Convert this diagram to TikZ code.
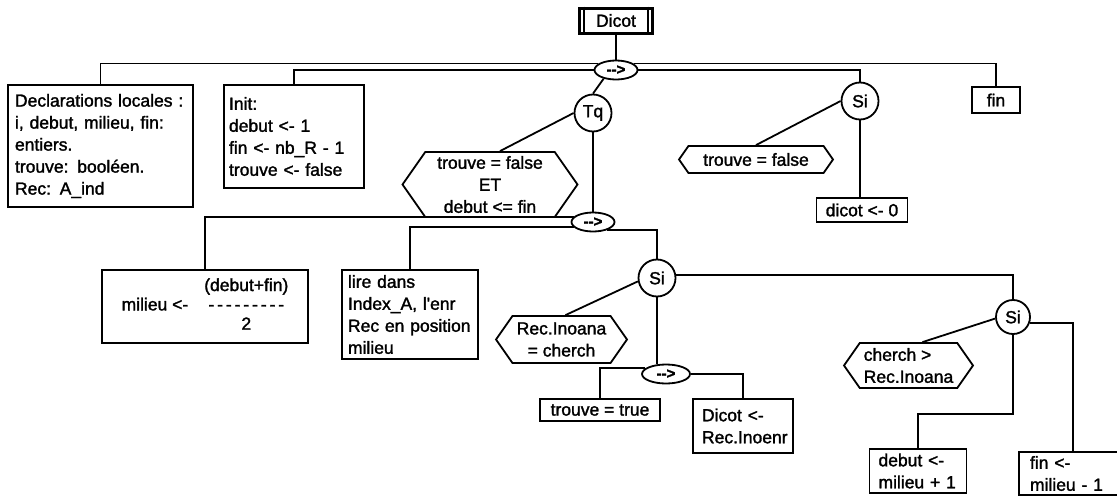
\documentclass[tikz,border=0pt]{standalone}
\usepackage{fontspec}
\newfontfamily\flowfont{Liberation Sans}[Ligatures=TeXOff, FakeBold=1.6]
\usetikzlibrary{shapes.geometric, shapes.symbols}
\newcommand{\fracdashes}{-\kern2.9pt-\kern2.9pt-\kern2.9pt-\kern2.9pt-\kern2.9pt-\kern2.9pt-\kern2.9pt-\kern2.9pt-}

\begin{document}
\begin{tikzpicture}[x=1pt, y=-1pt, line width=1.8pt,
	every node/.style={font=\flowfont\fontsize{17.5}{22}\selectfont},
	box/.style={draw, rectangle, inner ysep=2pt, align=left},
	test/.style={draw, circle, minimum size=37pt, inner sep=0pt},
	seq/.style={draw, ellipse, minimum width=43pt, minimum height=19pt, inner sep=0pt,
		font=\flowfont\bfseries\fontsize{15}{15}\selectfont},
	cond/.style={draw, signal, signal to=east and west, signal pointer angle=110,
		align=center, inner sep=1pt}]
	\useasboundingbox (0,0) rectangle (1117,498);

	% Nodes:
	\node[draw, line width=3pt, minimum width=73pt, minimum height=25pt, inner sep=0pt] (dicot) at (616,20.5) {Dicot};
	\draw ([xshift=6pt]dicot.north west) -- ([xshift=6pt]dicot.south west);
	\draw ([xshift=-6pt]dicot.north east) -- ([xshift=-6pt]dicot.south east);
	\node[seq] (e1) at (616,70) {-->};

	\node[box, inner xsep=7pt, text width=171pt, minimum height=122pt] (decl) at (100.5,146)
		{Declarations locales :\\i, debut, milieu, fin:\\entiers.\\trouve: booléen.\\Rec: A\_ind};
	\node[box, inner xsep=5pt, text width=130pt, minimum height=103pt] (init) at (294,136.5)
		{Init:\\debut <- 1\\fin <- nb\_R - 1\\trouve <- false};
	\node[test] (tq) at (593,113) {Tq};
	\node[cond, minimum width=175pt, minimum height=65pt] (tqcond) at (490,184.5)
		{trouve = false\\ET\\debut <= fin};
	\node[test] (si3) at (860,101) {Si};
	\node[cond, minimum width=154pt, minimum height=27pt] (si3cond) at (756,159.5) {trouve = false};
	\node[box, minimum width=91pt, minimum height=24pt, inner sep=0pt] (dicot0) at (862,210) {dicot <- 0};
	\node[box, minimum width=48pt, minimum height=26pt, inner sep=0pt] (fin) at (996,100) {fin};

	\node[seq] (e2) at (593,222) {-->};
	\node[box, minimum width=206pt, minimum height=73pt] (milieu) at (205,306.5)
		{\renewcommand{\arraystretch}{0.88}\begin{tabular}{@{}l@{\hspace{16pt}}c@{}}
			& (debut+fin)\\ milieu <- & \fracdashes\\ & 2\end{tabular}};
	\node[box, inner xsep=6pt, text width=124pt, minimum height=89pt] (lire) at (410,314.5)
		{lire dans\\Index\_A, l'enr\\Rec en position\\milieu};
	\node[test] (si1) at (657,278) {Si};
	\node[cond, minimum width=131pt, minimum height=47pt] (si1cond) at (561.5,339.5)
		{Rec.Inoana\\= cherch};
	\node[seq, minimum width=48pt] (e3) at (666,374) {-->};
	\node[box, minimum width=120pt, minimum height=22pt, inner sep=0pt] (trouvetrue) at (600,410) {trouve = true};
	\node[box, inner xsep=9pt, text width=82pt, minimum height=54pt] (dicotrec) at (743,426)
		{Dicot <-\\Rec.Inoenr};
	\node[test, minimum size=34pt] (si2) at (1013,317) {Si};
	\node[cond, minimum width=129pt, minimum height=45pt, align=left] (si2cond) at (908.5,365.5)
		{cherch >\\Rec.Inoana};
	\node[box, inner xsep=9pt, text width=79pt, minimum height=44pt] (debut) at (918,471)
		{debut <-\\milieu + 1};
	\node[box, inner xsep=11pt, text width=86pt, minimum height=43pt] (finb) at (1073,473.5)
		{fin <-\\milieu - 1};

	% Wires:
	\draw (dicot) -- (e1);
	\draw (e1.160) -| (decl.north);
	\draw (e1.west) -| (init.north);
	\draw (e1.215) -- (tq.north);
	\draw (e1.20) -| (fin.north);
	\draw (e1.east) -| (si3.north);
	\draw (si3.west) -- (si3cond.north);
	\draw (si3.south) -- (si3.south |- dicot0.north);
	\draw (tq.west) -- ([xshift=10pt]tqcond.north);
	\draw (tq.south) -- (e2.north);
	\draw (e2.165) -| (milieu.north);
	\draw (e2.195) -| (lire.north);
	\draw (e2.-30) -| (si1.north);
	\draw (si1.190) -- ([xshift=4pt]si1cond.north);
	\draw (si1.south) -- (si1.south |- e3.north);
	\draw (e3.165) -| (trouvetrue.north);
	\draw (e3.east) -| (dicotrec.north);
	\draw (si1.10) -| (si2.north);
	\draw (si2.185) -- ([xshift=14pt]si2cond.north);
	\draw (si2.south) |- ([yshift=34pt]debut.north) -| (debut.north);
	\draw (si2.-20) -| (finb.north);
\end{tikzpicture}
\end{document}
